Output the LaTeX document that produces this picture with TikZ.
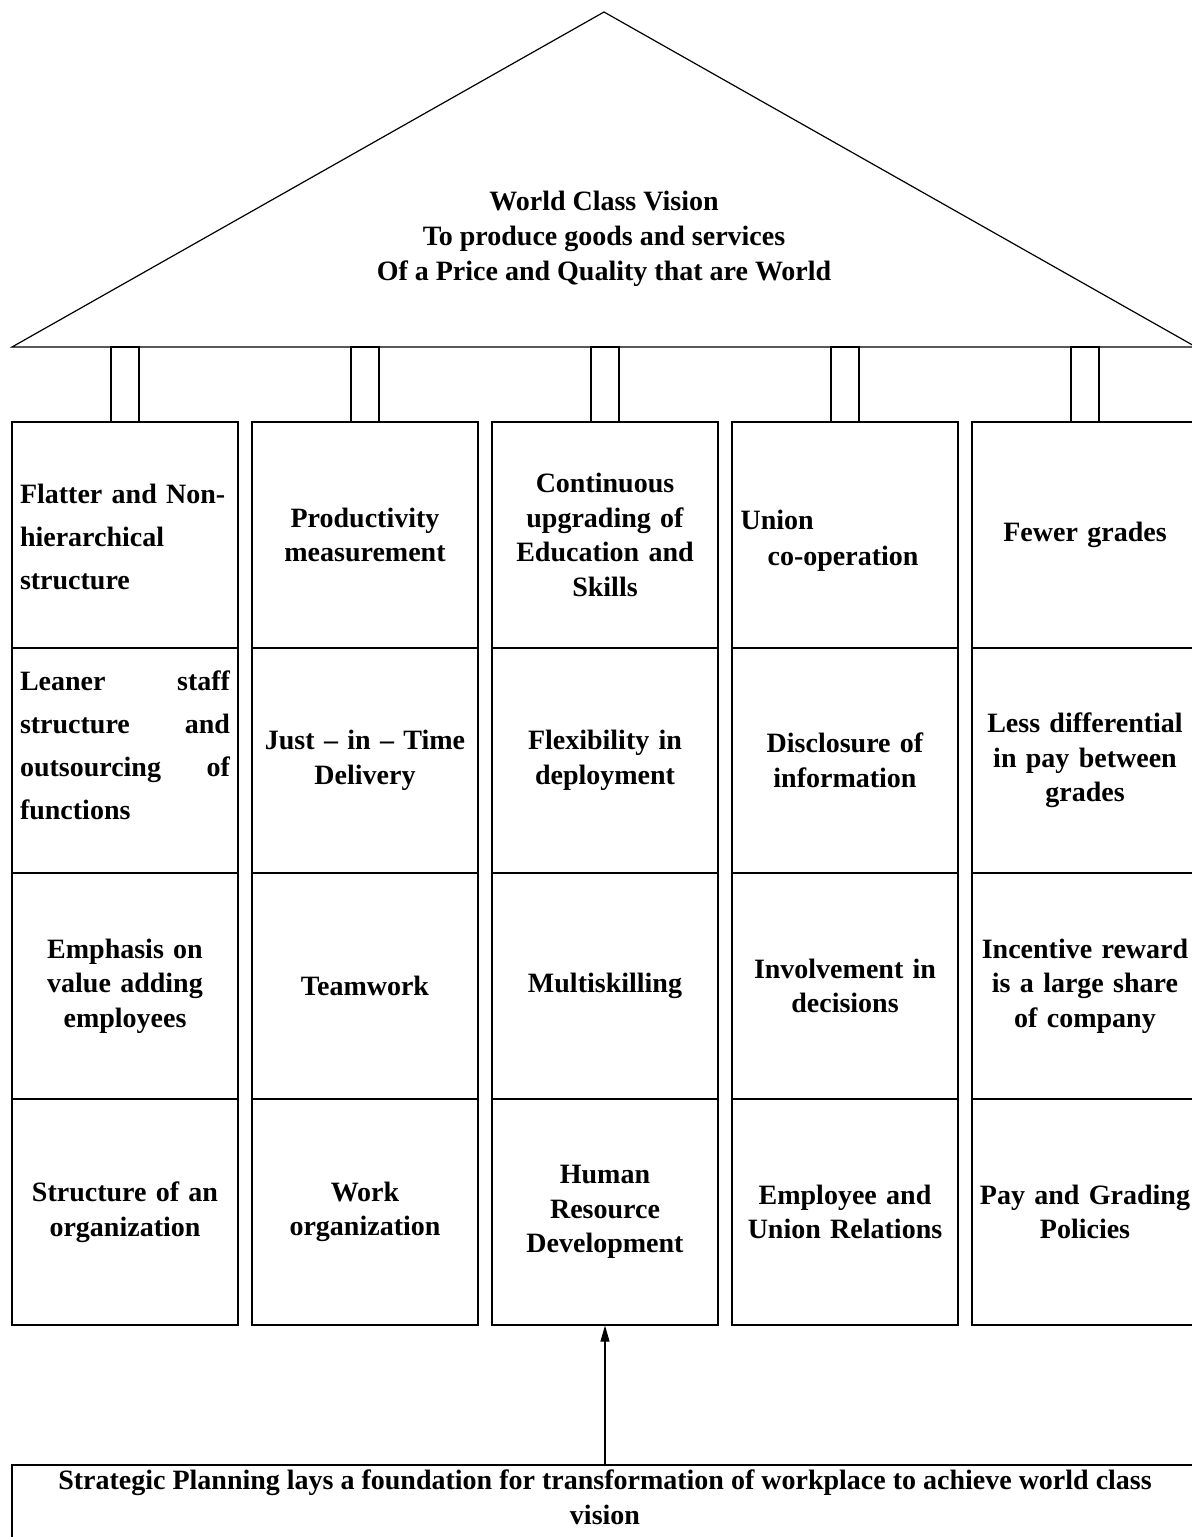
\documentclass[tikz,border=0pt]{standalone}
\usepackage{fontspec}
\setmainfont{Liberation Serif}
\usetikzlibrary{arrows.meta}
\begin{document}
\begin{tikzpicture}[x=0.5pt,y=-0.5pt,
  line width=0.6pt,
  txt/.style={font=\fontsize{14}{17.3}\selectfont\bfseries, align=center, inner sep=0pt},
  cell/.style={txt, draw, minimum width=113pt, minimum height=113pt, text width=110pt},
  blank/.style={draw, inner sep=0pt, minimum width=113pt, minimum height=113pt},
  loose/.style={font=\fontsize{14}{21.5}\selectfont\bfseries, align=left, inner sep=0pt, text width=105pt},
  pillar/.style={draw, inner sep=0pt, minimum width=14pt, minimum height=37.5pt},
  link/.style={-{Triangle[length=8pt,width=4.5pt]}}]
\useasboundingbox (0,0) rectangle (1192,1537);

% roof
\coordinate (apex) at (604,12);
\coordinate (eaveL) at (12,347);
\coordinate (eaveR) at (1196,347);
\draw (eaveL) -- (apex) -- (eaveR) -- cycle;
\node[txt, font=\fontsize{14}{17.5}\selectfont\bfseries] (vision) at (604,239)
  {World Class Vision\\To produce goods and services\\Of a Price and Quality that are World};

% pillars under the roof
\foreach \i/\x in {1/125,2/365,3/605,4/845,5/1085}
  \node[pillar] (p\i) at (\x,384.5) {};

% column 1: structure
\node[blank] (c11) at (125,535) {};
\node[loose] (t11) at (125,537) {Flatter and Non-\\hierarchical\\structure};
\node[blank] (c12) at (125,760.5) {};
\node[loose] (t12) at (125,745.5) {Leaner\hfill staff\\structure\hfill and\\outsourcing\hfill of\\functions};
\node[cell] (c13) at (125,986) {Emphasis on\\value adding\\employees};
\node[cell] (c14) at (125,1212) {Structure of an\\organization};

% column 2: work organization
\node[cell] (c21) at (365,535) {Productivity\\measurement};
\node[cell] (c22) at (365,760.5) {Just – in – Time\\Delivery};
\node[cell] (c23) at (365,986) {Teamwork};
\node[cell] (c24) at (365,1212) {Work\\organization};

% column 3: human resource development
\node[cell] (c31) at (605,535) {Continuous\\upgrading of\\Education and\\Skills};
\node[cell] (c32) at (605,760.5) {Flexibility in\\deployment};
\node[cell] (c33) at (605,986) {Multiskilling};
\node[cell] (c34) at (605,1212) {Human\\Resource\\Development};

% column 4: employee and union relations
\node[blank] (c41) at (845,535) {};
\node[txt, align=left, anchor=west, font=\fontsize{14}{18}\selectfont\bfseries] (t41) at (740,541)
  {Union\\\hspace{13.5pt}co-operation};
\node[cell] (c42) at (845,760.5) {Disclosure of\\information};
\node[cell] (c43) at (845,986) {Involvement in\\decisions};
\node[cell] (c44) at (845,1212) {Employee and\\Union Relations};

% column 5: pay and grading
\node[cell] (c51) at (1085,535) {Fewer grades};
\node[cell] (c52) at (1085,760.5) {Less differential\\in pay between\\grades};
\node[cell] (c53) at (1085,986) {Incentive reward\\is a large share\\of company};
\node[cell] (c54) at (1085,1212) {Pay and Grading\\Policies};

% foundation
\node[draw, inner sep=0pt, minimum width=593pt, minimum height=37.5pt] (base) at (605,1502.5) {};
\node[txt] (basetext) at (605,1497)
  {Strategic Planning lays a foundation for transformation of workplace to achieve world class\\vision};
\draw[link] (base.north) -- (c34.south);
\end{tikzpicture}
\end{document}
